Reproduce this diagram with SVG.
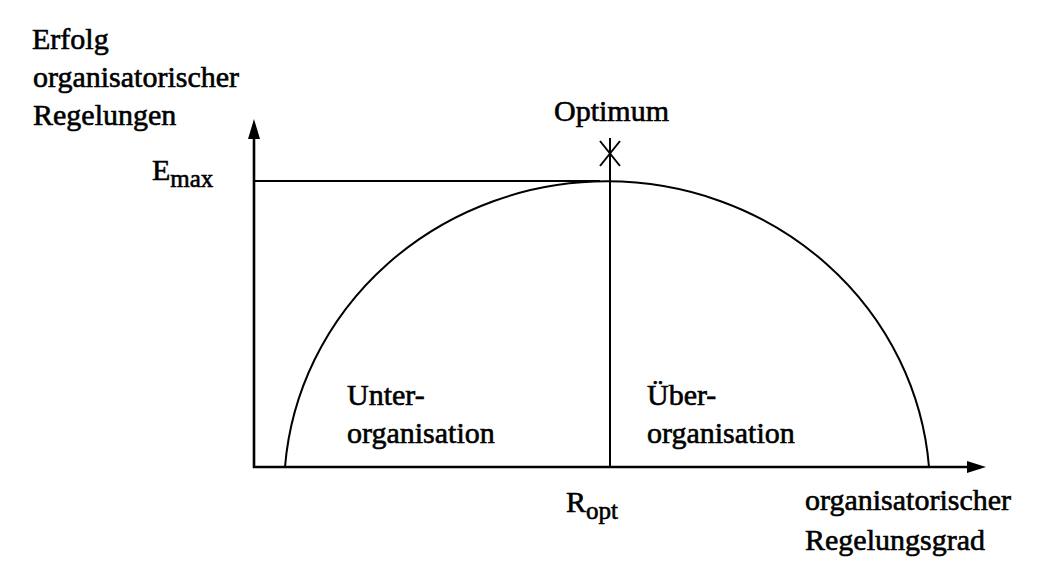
<svg xmlns="http://www.w3.org/2000/svg" width="1063" height="584" viewBox="0 0 1063 584">
<style>
.t{font-family:"Liberation Serif","Times New Roman",serif;font-size:30px;fill:#000;stroke:#000;stroke-width:0.6}
.s{font-size:25px}
.ax{stroke:#000;stroke-width:2.6;fill:none}
.ln{stroke:#000;stroke-width:2;fill:none}
</style>
<rect width="1063" height="584" fill="#fff"/>
<g id="connectors">
<line class="ax" x1="254" y1="468" x2="254" y2="132"/>
<polygon points="254,119 248,139 260,139" fill="#000"/>
<line class="ax" x1="253" y1="467" x2="972" y2="467"/>
<polygon points="986,467 967,461 967,473" fill="#000"/>
<line class="ln" x1="254" y1="181" x2="600" y2="181"/>
<line class="ln" x1="610" y1="138" x2="610" y2="467"/>
<path class="ln" d="M285,467 A323,310 0 0 1 929,467"/>
</g>
<g id="optimum-mark">
<line class="ln" x1="600" y1="141" x2="620" y2="166"/>
<line class="ln" x1="620" y1="141" x2="600" y2="166"/>
</g>
<g id="y-label">
<text class="t" x="32" y="49">Erfolg</text>
<text class="t" x="33" y="87">organisatorischer</text>
<text class="t" x="33" y="125">Regelungen</text>
</g>
<g id="optimum-label"><text class="t" x="554" y="121">Optimum</text></g>
<g id="emax-label"><text class="t" x="152" y="180">E<tspan class="s" dy="7">max</tspan></text></g>
<g id="ropt-label"><text class="t" x="566" y="512">R<tspan class="s" dy="7">opt</tspan></text></g>
<g id="unter-label">
<text class="t" x="347" y="405">Unter-</text>
<text class="t" x="347" y="443">organisation</text>
</g>
<g id="ueber-label">
<text class="t" x="647" y="405">Über-</text>
<text class="t" x="647" y="443">organisation</text>
</g>
<g id="x-label">
<text class="t" x="805" y="510">organisatorischer</text>
<text class="t" x="805" y="550">Regelungsgrad</text>
</g>
</svg>
